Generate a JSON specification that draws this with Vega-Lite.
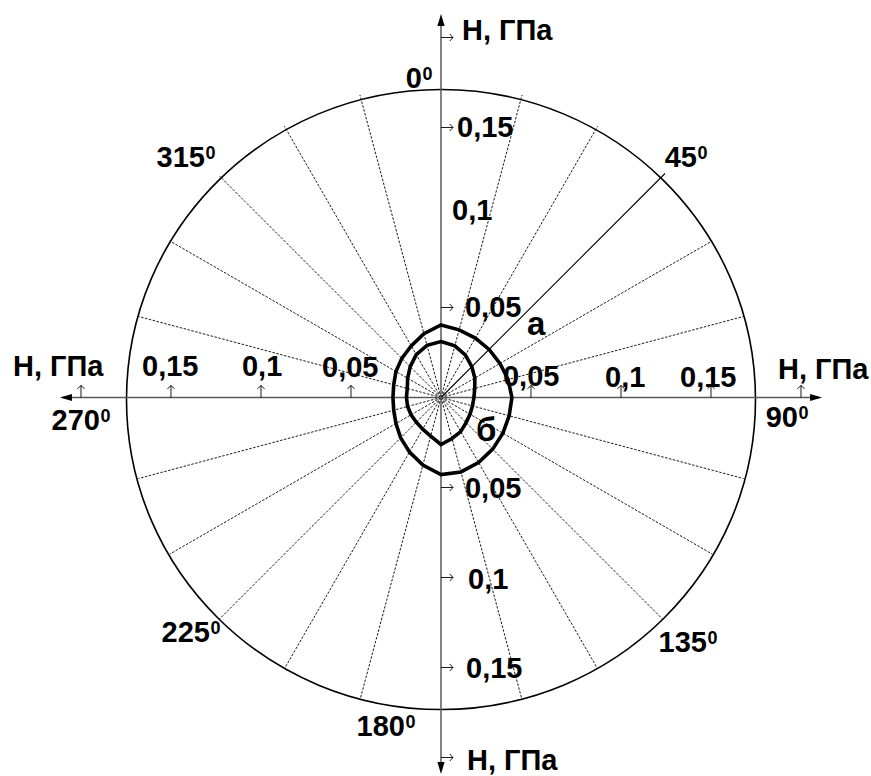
{
  "$schema": "https://vega.github.io/schema/vega-lite/v6.json",
  "width": 871,
  "height": 776,
  "padding": 0,
  "autosize": {"type": "none"},
  "background": "white",
  "config": {"view": {"stroke": null}, "font": "Liberation Sans"},
  "datasets": {
    "rays": [
      {"angle": 15}, {"angle": 30}, {"angle": 45}, {"angle": 60}, {"angle": 75},
      {"angle": 105}, {"angle": 120}, {"angle": 135}, {"angle": 150}, {"angle": 165},
      {"angle": 195}, {"angle": 210}, {"angle": 225}, {"angle": 240}, {"angle": 255},
      {"angle": 285}, {"angle": 300}, {"angle": 315}, {"angle": 330}, {"angle": 345}
    ],
    "hardness": [
      {"curve": "а", "angle": 0, "H": 0.0403},
      {"curve": "а", "angle": 15, "H": 0.0389},
      {"curve": "а", "angle": 30, "H": 0.0381},
      {"curve": "а", "angle": 45, "H": 0.0378},
      {"curve": "а", "angle": 60, "H": 0.0378},
      {"curve": "а", "angle": 75, "H": 0.0386},
      {"curve": "а", "angle": 90, "H": 0.0394},
      {"curve": "а", "angle": 105, "H": 0.0392},
      {"curve": "а", "angle": 120, "H": 0.0397},
      {"curve": "а", "angle": 135, "H": 0.0406},
      {"curve": "а", "angle": 150, "H": 0.0417},
      {"curve": "а", "angle": 165, "H": 0.0428},
      {"curve": "а", "angle": 180, "H": 0.0428},
      {"curve": "а", "angle": 195, "H": 0.0389},
      {"curve": "а", "angle": 210, "H": 0.035},
      {"curve": "а", "angle": 225, "H": 0.0317},
      {"curve": "а", "angle": 240, "H": 0.0289},
      {"curve": "а", "angle": 255, "H": 0.0272},
      {"curve": "а", "angle": 270, "H": 0.0267},
      {"curve": "а", "angle": 285, "H": 0.0272},
      {"curve": "а", "angle": 300, "H": 0.0289},
      {"curve": "а", "angle": 315, "H": 0.0308},
      {"curve": "а", "angle": 330, "H": 0.0331},
      {"curve": "а", "angle": 345, "H": 0.0367},
      {"curve": "б", "angle": 0, "H": 0.0311},
      {"curve": "б", "angle": 15, "H": 0.0297},
      {"curve": "б", "angle": 30, "H": 0.0272},
      {"curve": "б", "angle": 45, "H": 0.0242},
      {"curve": "б", "angle": 60, "H": 0.0217},
      {"curve": "б", "angle": 75, "H": 0.0194},
      {"curve": "б", "angle": 90, "H": 0.0183},
      {"curve": "б", "angle": 105, "H": 0.0181},
      {"curve": "б", "angle": 120, "H": 0.0186},
      {"curve": "б", "angle": 135, "H": 0.0197},
      {"curve": "б", "angle": 150, "H": 0.0219},
      {"curve": "б", "angle": 165, "H": 0.0236},
      {"curve": "б", "angle": 180, "H": 0.0261},
      {"curve": "б", "angle": 195, "H": 0.0222},
      {"curve": "б", "angle": 210, "H": 0.0203},
      {"curve": "б", "angle": 225, "H": 0.0194},
      {"curve": "б", "angle": 240, "H": 0.0192},
      {"curve": "б", "angle": 255, "H": 0.0192},
      {"curve": "б", "angle": 270, "H": 0.0192},
      {"curve": "б", "angle": 285, "H": 0.0194},
      {"curve": "б", "angle": 300, "H": 0.0214},
      {"curve": "б", "angle": 315, "H": 0.0242},
      {"curve": "б", "angle": 330, "H": 0.0275},
      {"curve": "б", "angle": 345, "H": 0.03}
    ],
    "axisLabels": [
      {"t": "Н, ГПа", "x": 0.01167, "y": 0.19861},
      {"t": "0,15", "x": 0.00889, "y": 0.14472},
      {"t": "0,1", "x": 0.00611, "y": 0.09861},
      {"t": "0,05", "x": 0.01333, "y": 0.04472},
      {"t": "0,05", "x": 0.03444, "y": 0.00639},
      {"t": "0,1", "x": 0.09111, "y": 0.00611},
      {"t": "0,15", "x": 0.13278, "y": 0.00611},
      {"t": "Н, ГПа", "x": 0.18722, "y": 0.01028},
      {"t": "Н, ГПа", "x": -0.23778, "y": 0.01194},
      {"t": "0,15", "x": -0.16611, "y": 0.01194},
      {"t": "0,1", "x": -0.11056, "y": 0.01194},
      {"t": "0,05", "x": -0.06611, "y": 0.01139},
      {"t": "0,05", "x": 0.01333, "y": -0.05583},
      {"t": "0,1", "x": 0.015, "y": -0.10639},
      {"t": "0,15", "x": 0.01389, "y": -0.15583},
      {"t": "Н, ГПа", "x": 0.01444, "y": -0.20694}
    ],
    "degrees": [
      {"d": "0", "x": -0.01056, "y": 0.17194},
      {"d": "45", "x": 0.14222, "y": 0.12806},
      {"d": "90", "x": 0.19833, "y": -0.01639},
      {"d": "135", "x": 0.14778, "y": -0.14139},
      {"d": "180", "x": -0.02, "y": -0.18778},
      {"d": "225", "x": -0.12833, "y": -0.13556},
      {"d": "270", "x": -0.18944, "y": -0.01806},
      {"d": "315", "x": -0.13111, "y": 0.12806}
    ],
    "curveLabels": [
      {"t": "а", "x": 0.04778, "y": 0.03472},
      {"t": "б", "x": 0.01944, "y": -0.02417}
    ],
    "hTicks": [
      {"x": -0.2, "y": 0}, {"x": -0.15, "y": 0}, {"x": -0.1, "y": 0}, {"x": -0.05, "y": 0},
      {"x": 0.05, "y": 0}, {"x": 0.1, "y": 0}, {"x": 0.15, "y": 0}, {"x": 0.2, "y": 0}
    ],
    "vTicks": [
      {"x": 0, "y": 0.2}, {"x": 0, "y": 0.15}, {"x": 0, "y": 0.05},
      {"x": 0, "y": -0.05}, {"x": 0, "y": -0.1}, {"x": 0, "y": -0.15}, {"x": 0, "y": -0.2}
    ],
    "axes": [
      {"axis": "horizontal", "x": -0.21, "x2": 0.21, "y": 0, "y2": 0},
      {"axis": "vertical", "x": 0, "x2": 0, "y": 0.211, "y2": -0.207}
    ],
    "arrowTips": [
      {"x": -0.2117, "y": 0, "dir": "left"},
      {"x": 0.2117, "y": 0, "dir": "right"},
      {"x": 0, "y": 0.2131, "dir": "up"},
      {"x": 0, "y": -0.2092, "dir": "down"}
    ],
    "origin": [{"x": 0, "y": 0}]
  },
  "layer": [
    {
      "data": {"name": "rays"},
      "transform": [
        {"filter": "datum.angle != 45"},
        {"calculate": "0", "as": "o"},
        {"calculate": "0.174 * sin(datum.angle * PI / 180)", "as": "ex"},
        {"calculate": "0.174 * cos(datum.angle * PI / 180)", "as": "ey"}
      ],
      "mark": {"type": "rule", "color": "black", "strokeWidth": 0.9, "strokeDash": [2.5, 1.5]},
      "encoding": {
        "x": {"field": "o", "type": "quantitative", "scale": {"domain": [-0.245, 0.238889], "nice": false, "zero": false}, "axis": null},
        "y": {"field": "o", "type": "quantitative", "scale": {"domain": [-0.210278, 0.220833], "nice": false, "zero": false}, "axis": null},
        "x2": {"field": "ex"},
        "y2": {"field": "ey"}
      }
    },
    {
      "data": {"name": "rays"},
      "transform": [
        {"filter": "datum.angle == 45"},
        {"calculate": "0", "as": "o"},
        {"calculate": "0.176 * sin(datum.angle * PI / 180)", "as": "ex"},
        {"calculate": "0.176 * cos(datum.angle * PI / 180)", "as": "ey"}
      ],
      "mark": {"type": "rule", "color": "black", "strokeWidth": 1.1},
      "encoding": {
        "x": {"field": "o", "type": "quantitative", "scale": {"domain": [-0.245, 0.238889], "nice": false, "zero": false}, "axis": null},
        "y": {"field": "o", "type": "quantitative", "scale": {"domain": [-0.210278, 0.220833], "nice": false, "zero": false}, "axis": null},
        "x2": {"field": "ex"},
        "y2": {"field": "ey"}
      }
    },
    {
      "data": {"name": "origin"},
      "mark": {
        "type": "point",
        "shape": "M-1,0.0064A1,0.9857 0 1,0 1,0.0064A1,0.9857 0 1,0 -1,0.0064",
        "size": 395641,
        "filled": false,
        "stroke": "black",
        "strokeWidth": 1.6,
        "opacity": 1
      },
      "encoding": {
        "x": {"field": "x", "type": "quantitative", "scale": {"domain": [-0.245, 0.238889], "nice": false, "zero": false}, "axis": null},
        "y": {"field": "y", "type": "quantitative", "scale": {"domain": [-0.210278, 0.220833], "nice": false, "zero": false}, "axis": null}
      }
    },
    {
      "data": {"name": "axes"},
      "mark": {"type": "rule", "color": "#5a5a5a", "strokeWidth": 1.5},
      "encoding": {
        "x": {"field": "x", "type": "quantitative", "scale": {"domain": [-0.245, 0.238889], "nice": false, "zero": false}, "axis": null},
        "x2": {"field": "x2"},
        "y": {"field": "y", "type": "quantitative", "scale": {"domain": [-0.210278, 0.220833], "nice": false, "zero": false}, "axis": null},
        "y2": {"field": "y2"}
      }
    },
    {
      "data": {"name": "arrowTips"},
      "mark": {"type": "point", "filled": true, "color": "black", "size": 144, "opacity": 1},
      "encoding": {
        "x": {"field": "x", "type": "quantitative", "scale": {"domain": [-0.245, 0.238889], "nice": false, "zero": false}, "axis": null},
        "y": {"field": "y", "type": "quantitative", "scale": {"domain": [-0.210278, 0.220833], "nice": false, "zero": false}, "axis": null},
        "shape": {
          "field": "dir",
          "type": "nominal",
          "scale": {
            "domain": ["left", "right", "up", "down"],
            "range": ["M0,0L2,-0.6L2,0.6Z", "M0,0L-2,-0.6L-2,0.6Z", "M0,0L-0.6,2L0.6,2Z", "M0,0L-0.6,-2L0.6,-2Z"]
          },
          "legend": null
        }
      }
    },
    {
      "data": {"name": "hTicks"},
      "mark": {"type": "point", "shape": "M0,0L0,-2M-0.6,-1.45L0,-2L0.6,-1.45", "size": 144, "filled": false, "stroke": "black", "strokeWidth": 0.9, "opacity": 1},
      "encoding": {
        "x": {"field": "x", "type": "quantitative", "scale": {"domain": [-0.245, 0.238889], "nice": false, "zero": false}, "axis": null},
        "y": {"field": "y", "type": "quantitative", "scale": {"domain": [-0.210278, 0.220833], "nice": false, "zero": false}, "axis": null}
      }
    },
    {
      "data": {"name": "vTicks"},
      "mark": {"type": "point", "shape": "M0,0L2,0M1.45,-0.6L2,0L1.45,0.6", "size": 144, "filled": false, "stroke": "black", "strokeWidth": 0.9, "opacity": 1},
      "encoding": {
        "x": {"field": "x", "type": "quantitative", "scale": {"domain": [-0.245, 0.238889], "nice": false, "zero": false}, "axis": null},
        "y": {"field": "y", "type": "quantitative", "scale": {"domain": [-0.210278, 0.220833], "nice": false, "zero": false}, "axis": null}
      }
    },
    {
      "data": {"name": "hardness"},
      "transform": [
        {"calculate": "datum.H * sin(datum.angle * PI / 180)", "as": "hx"},
        {"calculate": "datum.H * cos(datum.angle * PI / 180)", "as": "hy"}
      ],
      "mark": {"type": "line", "interpolate": "linear-closed", "color": "black", "strokeWidth": 3.6, "strokeJoin": "miter"},
      "encoding": {
        "x": {"field": "hx", "type": "quantitative", "scale": {"domain": [-0.245, 0.238889], "nice": false, "zero": false}, "axis": null},
        "y": {"field": "hy", "type": "quantitative", "scale": {"domain": [-0.210278, 0.220833], "nice": false, "zero": false}, "axis": null},
        "detail": {"field": "curve", "type": "nominal"},
        "order": {"field": "angle", "type": "quantitative"}
      }
    },
    {
      "data": {"name": "axisLabels"},
      "mark": {"type": "text", "align": "left", "baseline": "alphabetic", "font": "Liberation Sans", "fontWeight": "bold", "fontSize": 29, "color": "black"},
      "encoding": {
        "x": {"field": "x", "type": "quantitative", "scale": {"domain": [-0.245, 0.238889], "nice": false, "zero": false}, "axis": null},
        "y": {"field": "y", "type": "quantitative", "scale": {"domain": [-0.210278, 0.220833], "nice": false, "zero": false}, "axis": null},
        "text": {"field": "t"}
      }
    },
    {
      "data": {"name": "degrees"},
      "mark": {"type": "text", "align": "right", "baseline": "alphabetic", "font": "Liberation Sans", "fontWeight": "bold", "fontSize": 29, "color": "black"},
      "encoding": {
        "x": {"field": "x", "type": "quantitative", "scale": {"domain": [-0.245, 0.238889], "nice": false, "zero": false}, "axis": null},
        "y": {"field": "y", "type": "quantitative", "scale": {"domain": [-0.210278, 0.220833], "nice": false, "zero": false}, "axis": null},
        "text": {"field": "d"}
      }
    },
    {
      "data": {"name": "degrees"},
      "mark": {"type": "text", "align": "left", "baseline": "alphabetic", "dx": 0.5, "dy": -8, "font": "Liberation Sans", "fontWeight": "bold", "fontSize": 18, "color": "black"},
      "encoding": {
        "x": {"field": "x", "type": "quantitative", "scale": {"domain": [-0.245, 0.238889], "nice": false, "zero": false}, "axis": null},
        "y": {"field": "y", "type": "quantitative", "scale": {"domain": [-0.210278, 0.220833], "nice": false, "zero": false}, "axis": null},
        "text": {"value": "0"}
      }
    },
    {
      "data": {"name": "curveLabels"},
      "mark": {"type": "text", "align": "left", "baseline": "alphabetic", "font": "Liberation Sans", "fontWeight": "bold", "fontSize": 33, "color": "black"},
      "encoding": {
        "x": {"field": "x", "type": "quantitative", "scale": {"domain": [-0.245, 0.238889], "nice": false, "zero": false}, "axis": null},
        "y": {"field": "y", "type": "quantitative", "scale": {"domain": [-0.210278, 0.220833], "nice": false, "zero": false}, "axis": null},
        "text": {"field": "t"}
      }
    }
  ]
}
